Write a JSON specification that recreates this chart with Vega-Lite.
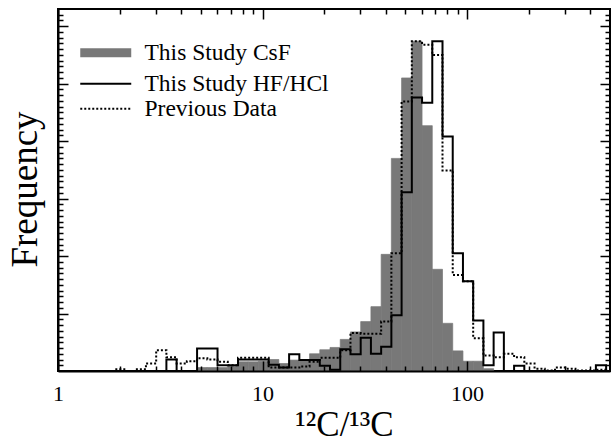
{
  "$schema": "https://vega.github.io/schema/vega-lite/v6.json",
  "width": 552,
  "height": 362,
  "autosize": "none",
  "padding": {"left": 58, "top": 9, "right": 1, "bottom": 73},
  "background": "white",
  "config": {
    "view": {"stroke": "black", "strokeWidth": 2},
    "font": "Liberation Serif",
    "axis": {"grid": false, "tickColor": "black", "tickWidth": 1.5, "domainColor": "black", "labelColor": "black", "titleColor": "black", "titleFontWeight": "normal", "titleFont": "Liberation Serif", "labelFont": "Liberation Serif"}
  },
  "datasets": {
    "csf": [
      {"lo": 4.7863, "hi": 5.3703, "n": 0.6},
      {"lo": 5.3703, "hi": 6.0256, "n": 0.6},
      {"lo": 6.0256, "hi": 6.7608, "n": 0.6},
      {"lo": 6.7608, "hi": 7.5858, "n": 0.8},
      {"lo": 7.5858, "hi": 8.5114, "n": 1.6},
      {"lo": 8.5114, "hi": 9.5499, "n": 1.6},
      {"lo": 9.5499, "hi": 10.715, "n": 1.7},
      {"lo": 10.715, "hi": 12.023, "n": 2.0},
      {"lo": 12.023, "hi": 13.490, "n": 1.3},
      {"lo": 13.490, "hi": 15.136, "n": 1.9},
      {"lo": 15.136, "hi": 16.982, "n": 1.9},
      {"lo": 16.982, "hi": 19.055, "n": 3.0},
      {"lo": 19.055, "hi": 21.380, "n": 3.7},
      {"lo": 21.380, "hi": 23.988, "n": 4.1},
      {"lo": 23.988, "hi": 26.915, "n": 5.5},
      {"lo": 26.915, "hi": 30.200, "n": 6.8},
      {"lo": 30.200, "hi": 33.884, "n": 8.6},
      {"lo": 33.884, "hi": 38.019, "n": 11.2},
      {"lo": 38.019, "hi": 42.658, "n": 20.3},
      {"lo": 42.658, "hi": 47.863, "n": 37.0},
      {"lo": 47.863, "hi": 53.703, "n": 51.0},
      {"lo": 53.703, "hi": 60.256, "n": 57.4},
      {"lo": 60.256, "hi": 67.608, "n": 42.7},
      {"lo": 67.608, "hi": 75.858, "n": 17.7},
      {"lo": 75.858, "hi": 85.114, "n": 8.3},
      {"lo": 85.114, "hi": 95.499, "n": 3.5},
      {"lo": 95.499, "hi": 107.15, "n": 1.7},
      {"lo": 107.15, "hi": 120.23, "n": 1.7},
      {"lo": 120.23, "hi": 134.90, "n": 0.4}
    ],
    "lines": [
      {"s": "This Study HF/HCl", "lo": 3.0200, "n": 0},
      {"s": "This Study HF/HCl", "lo": 3.3884, "n": 2.0},
      {"s": "This Study HF/HCl", "lo": 3.8019, "n": 0},
      {"s": "This Study HF/HCl", "lo": 4.2658, "n": 0},
      {"s": "This Study HF/HCl", "lo": 4.7863, "n": 3.9},
      {"s": "This Study HF/HCl", "lo": 5.3703, "n": 3.9},
      {"s": "This Study HF/HCl", "lo": 6.0256, "n": 1.0},
      {"s": "This Study HF/HCl", "lo": 6.7608, "n": 1.0},
      {"s": "This Study HF/HCl", "lo": 7.5858, "n": 2.0},
      {"s": "This Study HF/HCl", "lo": 8.5114, "n": 2.0},
      {"s": "This Study HF/HCl", "lo": 9.5499, "n": 2.0},
      {"s": "This Study HF/HCl", "lo": 10.715, "n": 1.1},
      {"s": "This Study HF/HCl", "lo": 12.023, "n": 0.6},
      {"s": "This Study HF/HCl", "lo": 13.490, "n": 2.9},
      {"s": "This Study HF/HCl", "lo": 15.136, "n": 1.9},
      {"s": "This Study HF/HCl", "lo": 16.982, "n": 1.9},
      {"s": "This Study HF/HCl", "lo": 19.055, "n": 0.9},
      {"s": "This Study HF/HCl", "lo": 21.380, "n": 0.2},
      {"s": "This Study HF/HCl", "lo": 23.988, "n": 3.8},
      {"s": "This Study HF/HCl", "lo": 26.915, "n": 2.9},
      {"s": "This Study HF/HCl", "lo": 30.200, "n": 5.8},
      {"s": "This Study HF/HCl", "lo": 33.884, "n": 3.0},
      {"s": "This Study HF/HCl", "lo": 38.019, "n": 4.2},
      {"s": "This Study HF/HCl", "lo": 42.658, "n": 9.7},
      {"s": "This Study HF/HCl", "lo": 47.863, "n": 31.1},
      {"s": "This Study HF/HCl", "lo": 53.703, "n": 47.6},
      {"s": "This Study HF/HCl", "lo": 60.256, "n": 46.7},
      {"s": "This Study HF/HCl", "lo": 67.608, "n": 57.4},
      {"s": "This Study HF/HCl", "lo": 75.858, "n": 40.8},
      {"s": "This Study HF/HCl", "lo": 85.114, "n": 20.5},
      {"s": "This Study HF/HCl", "lo": 95.499, "n": 15.6},
      {"s": "This Study HF/HCl", "lo": 107.15, "n": 8.8},
      {"s": "This Study HF/HCl", "lo": 120.23, "n": 1.0},
      {"s": "This Study HF/HCl", "lo": 134.90, "n": 6.7},
      {"s": "This Study HF/HCl", "lo": 151.36, "n": 0},
      {"s": "This Study HF/HCl", "lo": 169.82, "n": 0.9},
      {"s": "This Study HF/HCl", "lo": 190.55, "n": 0},
      {"s": "This Study HF/HCl", "lo": 426.58, "n": 1.0},
      {"s": "This Study HF/HCl", "lo": 478.63, "n": 0},
      {"s": "Previous Data", "lo": 1.6982, "n": 0},
      {"s": "Previous Data", "lo": 1.9055, "n": 0.3},
      {"s": "Previous Data", "lo": 2.1380, "n": 0},
      {"s": "Previous Data", "lo": 2.3988, "n": 0.3},
      {"s": "Previous Data", "lo": 2.6915, "n": 1.3},
      {"s": "Previous Data", "lo": 3.0200, "n": 3.6},
      {"s": "Previous Data", "lo": 3.3884, "n": 2.4},
      {"s": "Previous Data", "lo": 3.8019, "n": 1.3},
      {"s": "Previous Data", "lo": 4.2658, "n": 1.7},
      {"s": "Previous Data", "lo": 4.7863, "n": 2.2},
      {"s": "Previous Data", "lo": 5.3703, "n": 2.0},
      {"s": "Previous Data", "lo": 6.0256, "n": 1.6},
      {"s": "Previous Data", "lo": 6.7608, "n": 1.0},
      {"s": "Previous Data", "lo": 7.5858, "n": 2.3},
      {"s": "Previous Data", "lo": 8.5114, "n": 2.3},
      {"s": "Previous Data", "lo": 9.5499, "n": 2.3},
      {"s": "Previous Data", "lo": 10.715, "n": 0.6},
      {"s": "Previous Data", "lo": 12.023, "n": 0.6},
      {"s": "Previous Data", "lo": 13.490, "n": 0.6},
      {"s": "Previous Data", "lo": 15.136, "n": 0.8},
      {"s": "Previous Data", "lo": 16.982, "n": 1.6},
      {"s": "Previous Data", "lo": 19.055, "n": 2.3},
      {"s": "Previous Data", "lo": 21.380, "n": 2.3},
      {"s": "Previous Data", "lo": 23.988, "n": 3.6},
      {"s": "Previous Data", "lo": 26.915, "n": 6.6},
      {"s": "Previous Data", "lo": 30.200, "n": 6.5},
      {"s": "Previous Data", "lo": 33.884, "n": 6.5},
      {"s": "Previous Data", "lo": 38.019, "n": 8.6},
      {"s": "Previous Data", "lo": 42.658, "n": 20.5},
      {"s": "Previous Data", "lo": 47.863, "n": 46.9},
      {"s": "Previous Data", "lo": 53.703, "n": 57.4},
      {"s": "Previous Data", "lo": 60.256, "n": 56.8},
      {"s": "Previous Data", "lo": 67.608, "n": 55.0},
      {"s": "Previous Data", "lo": 75.858, "n": 34.9},
      {"s": "Previous Data", "lo": 85.114, "n": 16.7},
      {"s": "Previous Data", "lo": 95.499, "n": 15.6},
      {"s": "Previous Data", "lo": 107.15, "n": 5.7},
      {"s": "Previous Data", "lo": 120.23, "n": 2.7},
      {"s": "Previous Data", "lo": 134.90, "n": 2.4},
      {"s": "Previous Data", "lo": 151.36, "n": 3.0},
      {"s": "Previous Data", "lo": 169.82, "n": 2.4},
      {"s": "Previous Data", "lo": 190.55, "n": 1.3},
      {"s": "Previous Data", "lo": 213.80, "n": 0.4},
      {"s": "Previous Data", "lo": 239.88, "n": 0.1},
      {"s": "Previous Data", "lo": 269.15, "n": 0.6},
      {"s": "Previous Data", "lo": 302.00, "n": 0.4},
      {"s": "Previous Data", "lo": 338.84, "n": 0.1},
      {"s": "Previous Data", "lo": 380.19, "n": 0.1},
      {"s": "Previous Data", "lo": 426.58, "n": 0.2},
      {"s": "Previous Data", "lo": 478.63, "n": 0}
    ]
  },
  "layer": [
    {
      "data": {"name": "csf"},
      "mark": {"type": "rect", "color": "#787878", "stroke": "#787878", "strokeWidth": 0.7, "clip": true},
      "encoding": {
        "x": {"field": "lo", "type": "quantitative", "scale": {"type": "log", "domain": [1, 500]},
          "axis": {"orient": "bottom", "values": [1, 10, 100], "format": "d", "tickSize": -10, "domain": true, "domainWidth": 2, "labels": true, "labelFontSize": 22, "labelPadding": 22, "labelFlush": false, "labelOverlap": false, "title": "¹²C/¹³C", "titleFontSize": 35, "titleX": 286, "titleY": 64, "titleBaseline": "alphabetic", "zindex": 1}},
        "x2": {"field": "hi"},
        "y": {"field": "n", "type": "quantitative", "scale": {"domain": [0, 63], "nice": false},
          "axis": {"orient": "left", "values": [10, 20, 30, 40, 50, 60], "tickSize": -10, "domain": true, "domainWidth": 2, "labels": false, "title": "Frequency", "titleFontSize": 37, "titleX": -33, "titleY": 180, "titleAngle": -90, "titleBaseline": "middle", "titleAlign": "center", "zindex": 1}},
        "y2": {"datum": 0}
      }
    },
    {
      "data": {"name": "lines"},
      "mark": {"type": "line", "interpolate": "step-after", "strokeWidth": 2, "clip": true},
      "encoding": {
        "x": {"field": "lo", "type": "quantitative", "scale": {"type": "log", "domain": [1, 500]},
          "axis": {"orient": "bottom", "values": [2, 3, 4, 5, 6, 7, 8, 9, 20, 30, 40, 50, 60, 70, 80, 90, 200, 300, 400], "tickSize": -5, "domain": false, "labels": false, "title": null, "zindex": 1}},
        "y": {"field": "n", "type": "quantitative", "scale": {"domain": [0, 63], "nice": false},
          "axis": {"orient": "left", "values": [1,2,3,4,5,6,7,8,9,11,12,13,14,15,16,17,18,19,21,22,23,24,25,26,27,28,29,31,32,33,34,35,36,37,38,39,41,42,43,44,45,46,47,48,49,51,52,53,54,55,56,57,58,59,61,62], "tickSize": -5, "domain": false, "labels": false, "title": null, "zindex": 1}},
        "stroke": {"field": "s", "type": "nominal",
          "scale": {"domain": ["This Study CsF", "This Study HF/HCl", "Previous Data"], "range": ["#787878", "black", "black"]},
          "legend": {"orient": "none", "legendX": 36, "legendY": 32, "title": null, "symbolType": "stroke", "symbolSize": 2600, "symbolStrokeWidth": 2, "labelFontSize": 23.5, "labelFont": "Liberation Serif", "labelColor": "black", "labelOffset": 27, "labelLimit": 400, "rowPadding": 0,
            "encode": {"symbols": {"update": {"strokeWidth": {"signal": "datum.label === 'This Study CsF' ? 9 : 2"}}}}}},
        "strokeDash": {"field": "s", "type": "nominal",
          "scale": {"domain": ["This Study CsF", "This Study HF/HCl", "Previous Data"], "range": [[1, 0], [1, 0], [2, 2]]},
          "legend": {"orient": "none", "legendX": 36, "legendY": 32, "title": null, "symbolType": "stroke", "symbolSize": 2600, "labelFontSize": 23.5, "labelFont": "Liberation Serif", "labelColor": "black", "labelOffset": 27, "labelLimit": 400, "rowPadding": 0,
            "encode": {"symbols": {"update": {"strokeWidth": {"signal": "datum.label === 'This Study CsF' ? 9 : 2"}}}}}}
      }
    },
    {
      "data": {"name": "csf"},
      "mark": {"type": "point", "opacity": 0},
      "encoding": {
        "x": {"field": "lo", "type": "quantitative", "scale": {"type": "log", "domain": [1, 500]},
          "axis": {"orient": "top", "values": [1, 10, 100], "tickSize": -10, "domain": false, "labels": false, "title": null, "zindex": 1}},
        "y": {"field": "n", "type": "quantitative", "scale": {"domain": [0, 63], "nice": false},
          "axis": {"orient": "right", "values": [10, 20, 30, 40, 50, 60], "tickSize": -10, "domain": false, "labels": false, "title": null, "zindex": 1}}
      }
    },
    {
      "data": {"name": "csf"},
      "mark": {"type": "point", "opacity": 0},
      "encoding": {
        "x": {"field": "lo", "type": "quantitative", "scale": {"type": "log", "domain": [1, 500]},
          "axis": {"orient": "top", "values": [2, 3, 4, 5, 6, 7, 8, 9, 20, 30, 40, 50, 60, 70, 80, 90, 200, 300, 400], "tickSize": -5, "domain": false, "labels": false, "title": null, "zindex": 1}},
        "y": {"field": "n", "type": "quantitative", "scale": {"domain": [0, 63], "nice": false},
          "axis": {"orient": "right", "values": [1,2,3,4,5,6,7,8,9,11,12,13,14,15,16,17,18,19,21,22,23,24,25,26,27,28,29,31,32,33,34,35,36,37,38,39,41,42,43,44,45,46,47,48,49,51,52,53,54,55,56,57,58,59,61,62], "tickSize": -5, "domain": false, "labels": false, "title": null, "zindex": 1}}
      }
    }
  ],
  "resolve": {"axis": {"x": "independent", "y": "independent"}}
}
